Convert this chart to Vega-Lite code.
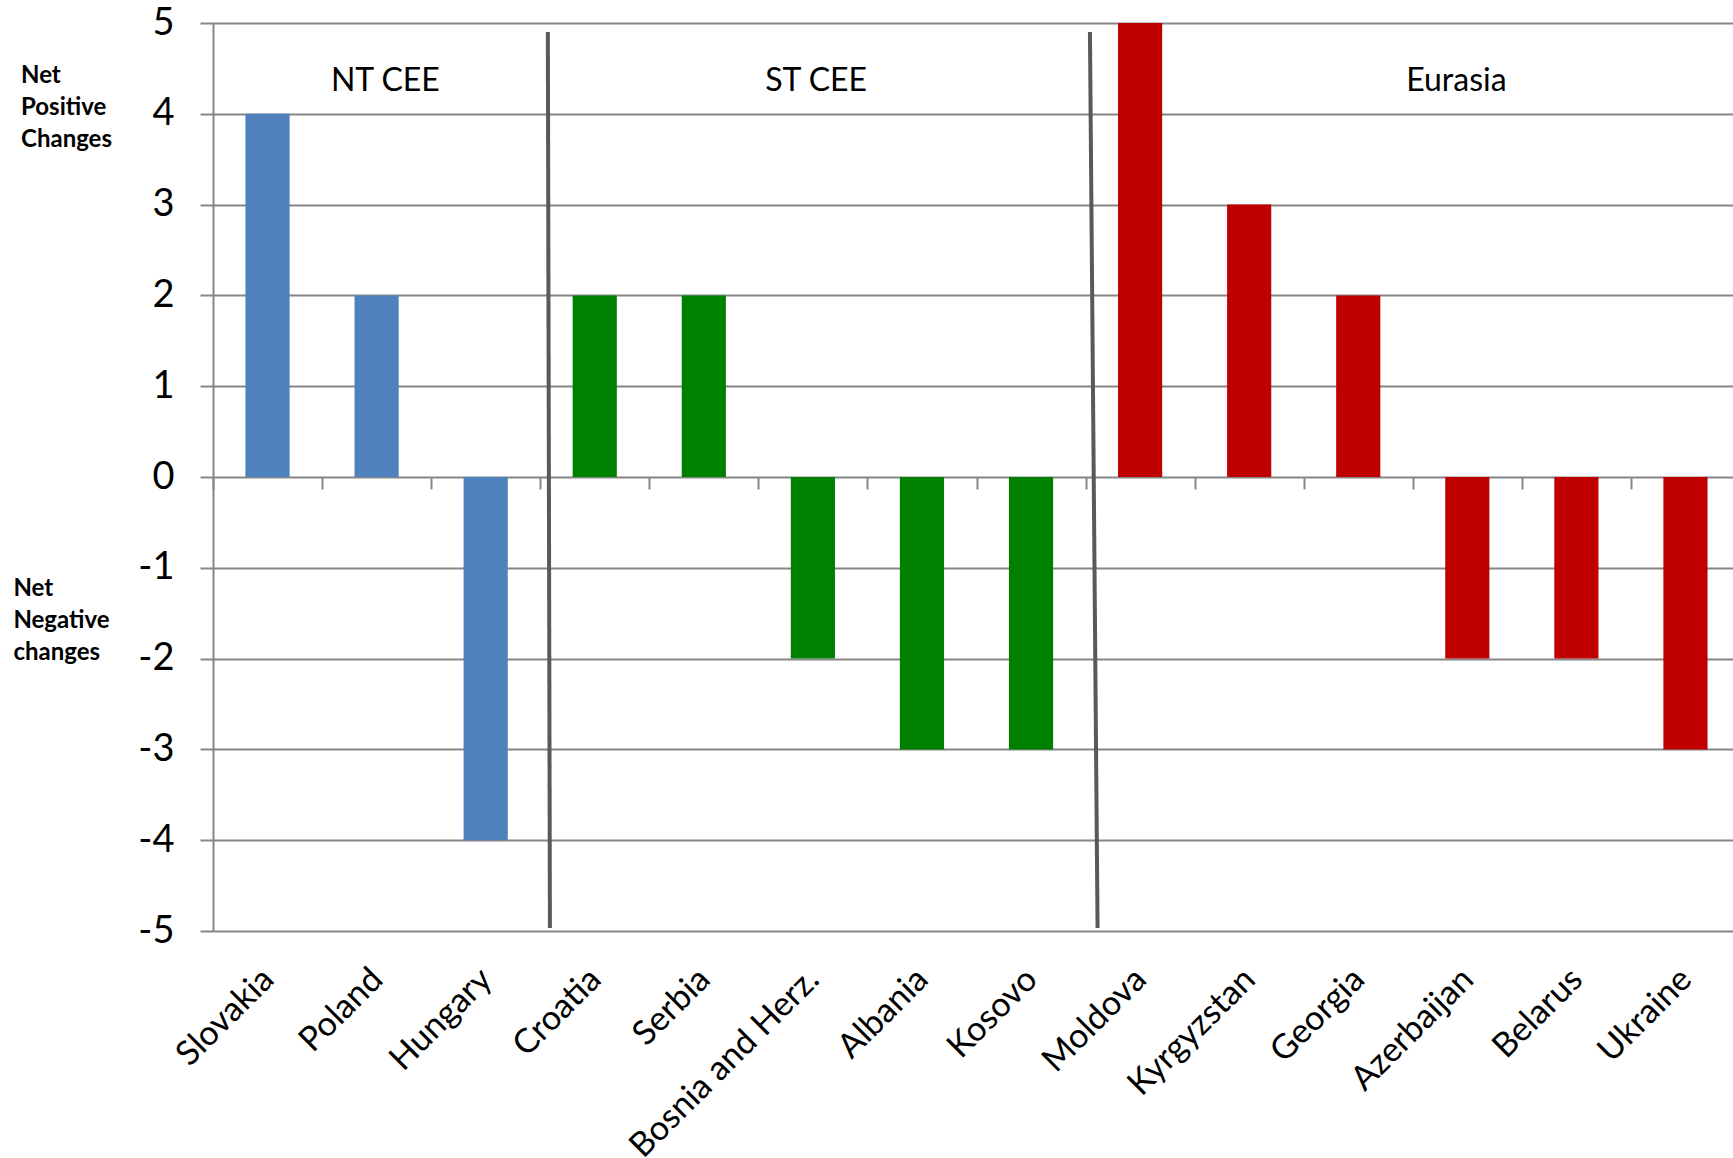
{
  "$schema": "https://vega.github.io/schema/vega-lite/v6.json",
  "width": 1520,
  "height": 908,
  "autosize": "none",
  "padding": {"left": 213, "top": 23, "right": 0, "bottom": 227},
  "config": {"font": "Lato", "view": {"stroke": null}},
  "datasets": {
    "bars": [
      {"country": "Slovakia", "value": 4, "group": "NT CEE"},
      {"country": "Poland", "value": 2, "group": "NT CEE"},
      {"country": "Hungary", "value": -4, "group": "NT CEE"},
      {"country": "Croatia", "value": 2, "group": "ST CEE"},
      {"country": "Serbia", "value": 2, "group": "ST CEE"},
      {"country": "Bosnia and Herz.", "value": -2, "group": "ST CEE"},
      {"country": "Albania", "value": -3, "group": "ST CEE"},
      {"country": "Kosovo", "value": -3, "group": "ST CEE"},
      {"country": "Moldova", "value": 5, "group": "Eurasia"},
      {"country": "Kyrgyzstan", "value": 3, "group": "Eurasia"},
      {"country": "Georgia", "value": 2, "group": "Eurasia"},
      {"country": "Azerbaijan", "value": -2, "group": "Eurasia"},
      {"country": "Belarus", "value": -2, "group": "Eurasia"},
      {"country": "Ukraine", "value": -3, "group": "Eurasia"}
    ],
    "dividers": [
      {"x": 3.07, "x2": 3.089, "y": 4.9, "y2": -4.967},
      {"x": 8.04, "x2": 8.11, "y": 4.9, "y2": -4.967}
    ],
    "groups": [
      {"label": "NT CEE", "x": 1.58, "y": 4.36},
      {"label": "ST CEE", "x": 5.53, "y": 4.36},
      {"label": "Eurasia", "x": 11.4, "y": 4.36}
    ],
    "sides": [
      {"label": "Net\nPositive\nChanges", "x": -1.76, "y": 4.42},
      {"label": "Net\nNegative\nchanges", "x": -1.83, "y": -1.23}
    ]
  },
  "layer": [
    {
      "data": {"name": "bars"},
      "mark": {"type": "bar", "width": {"band": 0.405}},
      "encoding": {
        "x": {
          "field": "country", "type": "nominal", "sort": null,
          "scale": {"paddingInner": 0, "paddingOuter": 0, "range": [0, 1527]},
          "axis": {
            "orient": "bottom", "title": null, "ticks": false, "tickSize": 0, "domain": false,
            "labelAngle": -45, "labelFontSize": 34, "labelColor": "#000000",
            "labelPadding": 31, "labelOffset": -11, "labelLimit": 0, "grid": false
          }
        },
        "y": {
          "field": "value", "type": "quantitative",
          "scale": {"domain": [-5, 5], "nice": false, "zero": false},
          "axis": {
            "title": null, "values": [-5, -4, -3, -2, -1, 0, 1, 2, 3, 4, 5],
            "labelExpr": "'' + datum.value",
            "grid": true, "gridColor": "#868686", "gridWidth": 2,
            "domain": true, "domainColor": "#868686", "domainWidth": 2,
            "ticks": true, "tickColor": "#868686", "tickWidth": 2, "tickSize": 13,
            "labelFontSize": 38, "labelColor": "#000000", "labelPadding": 26
          }
        },
        "color": {
          "field": "group", "type": "nominal",
          "scale": {"domain": ["NT CEE", "ST CEE", "Eurasia"], "range": ["#4F81BD", "#008000", "#C00000"]},
          "legend": null
        }
      }
    },
    {
      "data": {"name": "bars"},
      "mark": {"type": "point", "opacity": 0},
      "encoding": {
        "x": {
          "field": "country", "type": "nominal", "sort": null,
          "scale": {"paddingInner": 0, "paddingOuter": 0, "range": [0, 1527]},
          "axis": {
            "orient": "bottom", "offset": -454, "title": null, "labels": false,
            "domain": false, "grid": false,
            "ticks": true, "tickBand": "extent", "tickSize": 12, "tickColor": "#868686", "tickWidth": 2
          }
        },
        "y": {"datum": 0, "type": "quantitative", "axis": {"title": null}}
      }
    },
    {
      "data": {"name": "dividers"},
      "mark": {"type": "rule", "color": "#595959", "strokeWidth": 4},
      "encoding": {
        "x": {"field": "x", "type": "quantitative", "scale": {"domain": [0, 14], "range": [0, 1527], "nice": false, "zero": false}, "axis": null},
        "x2": {"field": "x2"},
        "y": {"field": "y", "type": "quantitative", "axis": {"title": null}},
        "y2": {"field": "y2"}
      }
    },
    {
      "data": {"name": "groups"},
      "mark": {"type": "text", "fontSize": 32, "align": "center", "baseline": "middle", "color": "#000000"},
      "encoding": {
        "x": {"field": "x", "type": "quantitative", "scale": {"domain": [0, 14], "range": [0, 1527], "nice": false, "zero": false}, "axis": null},
        "y": {"field": "y", "type": "quantitative", "axis": {"title": null}},
        "text": {"field": "label"}
      }
    },
    {
      "data": {"name": "sides"},
      "mark": {"type": "text", "fontSize": 24, "fontWeight": "bold", "align": "left", "baseline": "middle", "lineBreak": "\n", "lineHeight": 32, "color": "#000000"},
      "encoding": {
        "x": {"field": "x", "type": "quantitative", "scale": {"domain": [0, 14], "range": [0, 1527], "nice": false, "zero": false}, "axis": null},
        "y": {"field": "y", "type": "quantitative", "axis": {"title": null}},
        "text": {"field": "label"}
      }
    }
  ],
  "resolve": {"scale": {"x": "independent"}, "axis": {"x": "independent"}}
}
